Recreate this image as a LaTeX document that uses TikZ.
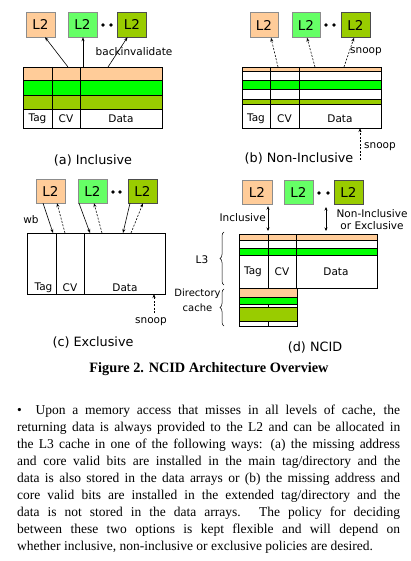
\documentclass[tikz,border=0pt]{standalone}
\usepackage{fontspec}
\setmainfont{Liberation Serif}
\newfontfamily\diagfont{DejaVu Sans}
\usetikzlibrary{arrows.meta,decorations.pathreplacing}
\definecolor{cachePeach}{RGB}{255,204,153}
\definecolor{cacheLime}{RGB}{102,255,102}
\definecolor{cacheGreen}{RGB}{0,255,0}
\definecolor{cacheOlive}{RGB}{153,204,0}

\begin{document}
\begin{tikzpicture}[x=1pt, y=-1pt,
    font=\diagfont\fontsize{10.5}{12}\selectfont,
    l2box/.style={draw=black!45, minimum width=29pt, minimum height=25pt, inner sep=0pt,
      font=\diagfont\fontsize{13.5}{15}\selectfont},
    tablines/.style={line width=0.7pt},
    fetch/.style={-{Stealth[length=4pt,width=3pt]}, line width=0.6pt},
    probe/.style={fetch, dash pattern=on 2pt off 1.5pt},
    twoway/.style={{Stealth[length=3.5pt,width=3pt]}-{Stealth[length=3.5pt,width=3pt]}, line width=0.6pt},
    subcap/.style={font=\diagfont\fontsize{12.8}{14}\selectfont},
    lbrace/.style={decorate, decoration={brace, amplitude=4pt}, line width=0.5pt}]
  \useasboundingbox (0,0) rectangle (410,561);

  % (a) Inclusive
  \node[l2box, fill=cachePeach] (a1) at (40.5,24.5) {L2};
  \node[l2box, fill=cacheLime] (a2) at (82.5,24.5) {L2};
  \node[l2box, fill=cacheOlive, draw=black!70] (a3) at (132,24.5) {L2};
  \fill (103,25) circle (1.8pt) (111,25) circle (1.8pt);
  \fill[cachePeach] (23,67) rectangle (162,80);
  \fill[cacheGreen] (23,80) rectangle (162,95);
  \fill[cacheOlive] (23,95) rectangle (162,109);
  \draw[tablines] (23,67) rectangle (162,128)
    (23,80) -- (162,80) (23,95) -- (162,95) (23,109) -- (162,109)
    (52,67) -- (52,128) (80,67) -- (80,128);
  \node (aTag) at (37.5,119) {Tag};
  \node (aCV) at (66,119) {CV};
  \node (aData) at (121,119) {Data};
  \coordinate (aT1) at (68,67);
  \coordinate (aT2) at (83,67);
  \coordinate (aT3) at (108,67);
  \draw[fetch] (aT1) -- ([xshift=4.5pt]a1.south);
  \draw[fetch] (aT2) -- ([xshift=0.5pt]a2.south);
  \draw[fetch] (aT3) -- ([xshift=-4.5pt]a3.south);
  \node (backinv) at (134,52) {backinvalidate};
  \node[subcap] (capA) at (93,160) {(a) Inclusive};

  % (b) Non-Inclusive
  \node[l2box, fill=cachePeach, minimum width=28pt] (b1) at (264,25) {L2};
  \node[l2box, fill=cacheLime, minimum width=28pt] (b2) at (306,25) {L2};
  \node[l2box, fill=cacheOlive, draw=black!70] (b3) at (355.5,25) {L2};
  \fill (326,25) circle (1.8pt) (334,25) circle (1.8pt);
  \fill[cachePeach] (242,67) rectangle (381,71);
  \fill[cacheGreen] (242,80) rectangle (381,89);
  \fill[cacheOlive] (242,99) rectangle (381,104);
  \draw[tablines] (242,67) rectangle (381,128)
    (242,71) -- (381,71) (242,80) -- (381,80) (242,89) -- (381,89)
    (242,99) -- (381,99) (242,104) -- (381,104)
    (270,67) -- (270,128) (299,67) -- (299,128);
  \node (bTag) at (256,119) {Tag};
  \node (bCV) at (284.5,119) {CV};
  \node (bData) at (340,119) {Data};
  \coordinate (bT1) at (278,67);
  \coordinate (bT2) at (315,67);
  \coordinate (bT3) at (344,67);
  \draw[probe] (bT1) -- ([xshift=7pt]b1.south);
  \draw[probe] (bT2) -- ([xshift=1pt]b2.south);
  \draw[probe] (bT3) -- ([xshift=-1.5pt]b3.south);
  \node (bSnoopTop) at (366,52) {snoop};
  \coordinate (bIn) at (360,160);
  \coordinate (bBot) at (360,128);
  \draw[probe] (bIn) -- (bBot);
  \node (bSnoopBot) at (380,147) {snoop};
  \node[subcap] (capB) at (299,158) {(b) Non-Inclusive};

  % (c) Exclusive
  \node[l2box, fill=cachePeach, minimum height=24pt] (c1) at (50.5,191) {L2};
  \node[l2box, fill=cacheLime, minimum height=24pt] (c2) at (92.5,191) {L2};
  \node[l2box, fill=cacheOlive, draw=black!70, minimum height=24pt] (c3) at (142.5,191) {L2};
  \fill (113,192) circle (1.8pt) (120,192) circle (1.8pt);
  \draw[tablines] (27,233) rectangle (165,294) (56,233) -- (56,294) (84,233) -- (84,294);
  \node (cTag) at (43.5,288) {Tag};
  \node (cCV) at (70,288) {CV};
  \node (cData) at (125,288) {Data};
  \coordinate (cW1) at (53,233);
  \coordinate (cR1) at (65,233);
  \coordinate (cW2) at (90,233);
  \coordinate (cR2) at (102,233);
  \coordinate (cW3) at (123,233);
  \coordinate (cR3) at (131,233);
  \draw[fetch] ([xshift=-7.5pt]c1.south) -- (cW1);
  \draw[probe] (cR1) -- ([xshift=6.5pt]c1.south);
  \draw[fetch] ([xshift=-13.5pt]c2.south) -- (cW2);
  \draw[probe] (cR2) -- ([xshift=1.5pt]c2.south);
  \draw[fetch] ([xshift=-12.5pt]c3.south) -- (cW3);
  \draw[probe] (cR3) -- ([xshift=0.5pt]c3.south);
  \node (wb) at (31,220) {wb};
  \coordinate (cIn) at (154,313);
  \coordinate (cBot) at (154,294);
  \draw[probe] (cIn) -- (cBot);
  \node (cSnoop) at (151,322) {snoop};
  \node[subcap] (capC) at (93,342) {(c) Exclusive};

  % (d) NCID
  \node[l2box, fill=cachePeach, minimum width=30pt, minimum height=24pt] (d1) at (257,192) {L2};
  \node[l2box, fill=cacheLime, minimum height=24pt] (d2) at (298.5,192) {L2};
  \node[l2box, fill=cacheOlive, draw=black!70, minimum height=24pt] (d3) at (348.5,192) {L2};
  \fill (319,193) circle (1.8pt) (328,193) circle (1.8pt);
  % main tag/data array
  \fill[cachePeach] (239,234) rectangle (377,240);
  \fill[cacheGreen] (239,248) rectangle (377,255);
  \draw[tablines] (239,234) rectangle (377,288)
    (239,240) -- (377,240) (239,248) -- (377,248) (239,255) -- (377,255)
    (268,234) -- (268,326) (296,234) -- (296,288);
  \node (dTag) at (253,272) {Tag};
  \node (dCV) at (282,272) {CV};
  \node (dData) at (336,272) {Data};
  % extended tag/directory
  \fill[cachePeach] (239,288) rectangle (297,297);
  \fill[cacheGreen] (239,297.5) rectangle (297,304);
  \fill[cacheOlive] (239,307) rectangle (297,321);
  \draw[tablines] (239,288) rectangle (297,326)
    (239,297.5) -- (297,297.5) (239,304) -- (297,304)
    (239,307) -- (297,307) (239,321) -- (297,321);
  \coordinate (dT1) at (268,233);
  \coordinate (dU2) at (326,205);
  \coordinate (dT2) at (326,233);
  \draw[twoway, shorten <=2pt, shorten >=2pt] ([xshift=11pt]d1.south) -- (dT1);
  \draw[twoway, shorten <=2pt, shorten >=2pt] (dU2) -- (dT2);
  \node[anchor=east, inner sep=0pt] (dIncl) at (266,218) {Inclusive};
  \node[align=center, inner sep=0pt] (dNonIncl) at (372,219.5) {Non-Inclusive\\[0pt]or Exclusive};
  \draw[lbrace] (224,285) -- (224,232) coordinate[midway] (braceL3);
  \draw[lbrace] (224,326) -- (224,289) coordinate[midway] (braceDir);
  \node (l3) at (202,260) {L3};
  \node[align=center, inner sep=0pt, font=\diagfont\fontsize{10}{15}\selectfont] (dircache) at (197.5,300.5) {Directory\\cache};
  \node[subcap] (capD) at (315,347) {(d) NCID};

  % figure caption and running text
  \node[font=\rmfamily\bfseries\fontsize{14.3}{16}\selectfont] (figcap) at (209,369)
    {Figure 2. NCID Architecture Overview};
  \node[anchor=north west, inner sep=0pt, text width=383pt, align=justify,
    font=\rmfamily\fontsize{13.5}{17}\selectfont] (body) at (17,404.5)
    {\parfillskip=0pt \textbullet\ \ Upon a memory access that misses in all levels of cache, the\linebreak
     returning data is always provided to the L2 and can be allocated in\linebreak
     the L3 cache in one of the following ways: (a) the missing address\linebreak
     and core valid bits are installed in the main tag/directory and the\linebreak
     data is also stored in the data arrays or (b) the missing address and\linebreak
     core valid bits are installed in the extended tag/directory and the\linebreak
     data is not stored in the data arrays. The policy for deciding\linebreak
     between these two options is kept flexible and will depend on\linebreak
     whether inclusive, non-inclusive or exclusive policies are desired.};
\end{tikzpicture}
\end{document}
